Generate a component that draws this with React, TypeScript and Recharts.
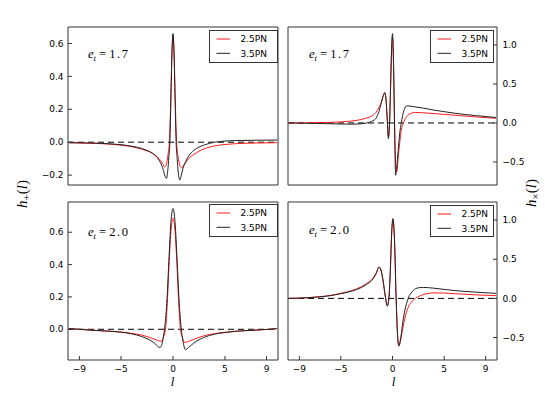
import React from 'react';
import { LineChart, Line, XAxis, YAxis, ReferenceLine } from 'recharts';

// ---------- data ----------
const xTicks = [-9, -5, 0, 5, 9];
const yTicksTL = [-0.2, 0, 0.2, 0.4, 0.6];
const yTicksTR = [-0.5, 0, 0.5, 1.0];
const yTicksBL = [0, 0.2, 0.4, 0.6];
const yTicksBR = [-0.5, 0, 0.5, 1.0];
const seriesNames = ['2.5PN', '3.5PN'];
const panelLabels = ['1.7', '1.7', '2.0', '2.0'];

// top-left: h+ , e_t = 1.7
const tlL35 = [-10, -8, -6, -5, -4, -3, -2.5, -2, -1.5, -1.2, -1, -0.8, -0.63, -0.5, -0.4, -0.3, -0.2, -0.1, 0, 0.1, 0.2, 0.3, 0.4, 0.5, 0.65, 0.8, 1, 1.2, 1.5, 2, 2.5, 3, 3.5, 4, 5, 6, 8, 10];
const tlH35 = [-0.003, -0.005, -0.01, -0.015, -0.024, -0.038, -0.05, -0.066, -0.095, -0.125, -0.155, -0.2, -0.22, -0.17, -0.09, 0, 0.26, 0.54, 0.66, 0.54, 0.26, 0, -0.1, -0.18, -0.23, -0.2, -0.15, -0.12, -0.085, -0.05, -0.03, -0.017, -0.007, 0, 0.007, 0.01, 0.012, 0.013];
const tlL25 = [-10, -8, -6, -5, -4, -3, -2.5, -2, -1.5, -1.2, -1, -0.79, -0.6, -0.45, -0.35, -0.2, -0.1, 0, 0.1, 0.2, 0.35, 0.5, 0.65, 0.82, 1, 1.2, 1.5, 2, 2.5, 3, 3.5, 4, 5, 6, 8, 10];
const tlH25 = [-0.003, -0.006, -0.012, -0.018, -0.027, -0.042, -0.052, -0.066, -0.09, -0.11, -0.13, -0.15, -0.125, -0.06, 0, 0.3, 0.55, 0.65, 0.55, 0.3, 0, -0.09, -0.14, -0.155, -0.145, -0.125, -0.1, -0.075, -0.055, -0.04, -0.03, -0.022, -0.014, -0.009, -0.005, -0.003];

// top-right: hx , e_t = 1.7
const trL35 = [-10, -8, -6, -4, -3, -2.5, -2, -1.6, -1.3, -1.1, -0.9, -0.75, -0.6, -0.5, -0.4, -0.3, -0.2, -0.1, 0, 0.1, 0.2, 0.3, 0.4, 0.55, 0.7, 0.85, 1.1, 1.42, 2, 3, 4, 5, 6, 8, 10];
const trH35 = [0, -0.004, -0.01, -0.015, -0.01, 0, 0.02, 0.06, 0.15, 0.25, 0.35, 0.39, 0.25, 0.02, -0.2, -0.05, 0.4, 0.9, 1.145, 0.75, -0.05, -0.67, -0.58, -0.35, -0.13, 0, 0.16, 0.22, 0.21, 0.19, 0.165, 0.145, 0.125, 0.095, 0.07];
const trL25 = [-10, -8, -6, -5, -4, -3, -2.5, -2, -1.6, -1.3, -1.1, -0.9, -0.75, -0.6, -0.5, -0.4, -0.3, -0.2, -0.1, 0, 0.1, 0.2, 0.3, 0.4, 0.55, 0.7, 0.85, 1.05, 1.3, 1.6, 2.2, 3, 4, 5, 6, 8, 10];
const trH25 = [0, 0.003, 0.008, 0.014, 0.024, 0.045, 0.063, 0.09, 0.135, 0.2, 0.26, 0.34, 0.385, 0.26, 0.03, -0.17, -0.05, 0.37, 0.85, 1.1, 0.75, 0, -0.5, -0.63, -0.45, -0.25, -0.09, 0, 0.07, 0.11, 0.135, 0.13, 0.12, 0.11, 0.1, 0.078, 0.06];

// bottom-left: h+ , e_t = 2.0
const blL35 = [-10, -9, -8, -6, -5, -4, -3, -2.5, -2, -1.6, -1.27, -1.1, -0.95, -0.82, -0.6, -0.4, -0.2, 0, 0.2, 0.4, 0.6, 0.8, 0.95, 1.2, 1.5, 2, 2.5, 3, 4, 5, 6, 8, 9, 10];
const blH35 = [0.004, 0, -0.005, -0.013, -0.018, -0.028, -0.045, -0.058, -0.075, -0.097, -0.113, -0.1, -0.055, 0, 0.16, 0.42, 0.66, 0.747, 0.66, 0.42, 0.16, 0, -0.07, -0.126, -0.112, -0.085, -0.065, -0.05, -0.03, -0.02, -0.013, -0.005, -0.001, 0.004];
const blL25 = [-10, -9, -8, -6, -5, -4, -3, -2.5, -2, -1.6, -1.1, -0.9, -0.72, -0.55, -0.35, -0.15, 0, 0.15, 0.35, 0.55, 0.72, 0.9, 1.13, 1.5, 2, 2.5, 3, 4, 5, 6, 8, 9, 10];
const blH25 = [0.004, 0, -0.005, -0.012, -0.017, -0.025, -0.036, -0.045, -0.056, -0.066, -0.074, -0.045, 0, 0.16, 0.44, 0.64, 0.685, 0.64, 0.44, 0.16, 0, -0.05, -0.082, -0.075, -0.062, -0.05, -0.04, -0.027, -0.019, -0.012, -0.005, -0.001, 0.004];

// bottom-right: hx , e_t = 2.0
const brL35 = [-10, -9, -8, -7, -6, -5, -4, -3, -2.5, -2, -1.6, -1.3, -1.1, -0.9, -0.7, -0.5, -0.35, -0.2, -0.08, 0.05, 0.2, 0.35, 0.5, 0.62, 0.8, 1.0, 1.2, 1.52, 2, 2.5, 3, 4, 5, 6, 8, 10];
const brH35 = [0, 0.003, 0.01, 0.02, 0.035, 0.06, 0.09, 0.14, 0.18, 0.23, 0.31, 0.4, 0.36, 0.22, 0.03, -0.1, 0, 0.4, 0.85, 1.02, 0.72, 0, -0.5, -0.61, -0.5, -0.3, -0.15, 0, 0.1, 0.135, 0.14, 0.13, 0.115, 0.1, 0.08, 0.064];
const brL25 = [-10, -9, -8, -7, -6, -5, -4, -3, -2.5, -2, -1.6, -1.3, -1.1, -0.9, -0.7, -0.5, -0.35, -0.2, -0.08, 0.05, 0.2, 0.35, 0.5, 0.62, 0.8, 1.0, 1.2, 1.5, 1.8, 2.23, 3, 4, 5, 6, 8, 10];
const brH25 = [0, 0.004, 0.011, 0.022, 0.038, 0.064, 0.097, 0.15, 0.19, 0.24, 0.32, 0.4, 0.35, 0.21, 0.03, -0.09, 0, 0.38, 0.82, 1.0, 0.72, 0.02, -0.48, -0.6, -0.52, -0.38, -0.25, -0.12, -0.05, 0, 0.05, 0.07, 0.068, 0.06, 0.045, 0.035];

// ---------- helpers ----------
const W = 545;
const H = 393;
const RED = '#ff1a1a';
const BLACK = '#222';
const FRAME = '#333';
const X_DOMAIN: [number, number] = [-10.1, 10.1];

const zip = (l: number[], h: number[]) => l.map((x, i) => ({ l: x, h: h[i] }));
const fmtY = (v: number) => (v < 0 ? '\u2212' : '') + Math.abs(v).toFixed(1);
const fmtX = (v: number) => (v < 0 ? '\u2212' : '') + Math.abs(v).toString();

const tickFont = { fill: '#000', fontSize: 9, fontFamily: 'DejaVu Sans' };

type PanelProps = {
  rect: [number, number, number, number];
  yDomain: [number, number];
  yTicks: number[];
  side: 'left' | 'right';
  showX: boolean;
  red: { l: number; h: number }[];
  black: { l: number; h: number }[];
};

function Panel({ rect, yDomain, yTicks, side, showX, red, black }: PanelProps) {
  const [L, T, R, B] = rect;
  const margin = { left: L - 1, top: T - 1, right: W - R - 1, bottom: H - B - 1 };
  return (
    <div style={{ position: 'absolute', left: 0, top: 0 }}>
      <LineChart width={W} height={H} margin={margin}>
        <XAxis
          xAxisId="b"
          type="number"
          dataKey="l"
          orientation="bottom"
          domain={X_DOMAIN}
          allowDataOverflow
          ticks={xTicks}
          interval={0}
          height={1}
          tickSize={-4}
          tickMargin={10}
          stroke={FRAME}
          tick={showX ? tickFont : false}
          tickFormatter={fmtX}
        />
        <XAxis
          xAxisId="t"
          type="number"
          dataKey="l"
          orientation="top"
          domain={X_DOMAIN}
          allowDataOverflow
          ticks={xTicks}
          interval={0}
          height={1}
          tickSize={-4}
          stroke={FRAME}
          tick={false}
        />
        <YAxis
          yAxisId="l"
          type="number"
          orientation="left"
          domain={yDomain}
          allowDataOverflow
          ticks={yTicks}
          interval={0}
          width={1}
          tickSize={-4}
          tickMargin={8.5}
          stroke={FRAME}
          tick={side === 'left' ? tickFont : false}
          tickFormatter={fmtY}
        />
        <YAxis
          yAxisId="r"
          type="number"
          orientation="right"
          domain={yDomain}
          allowDataOverflow
          ticks={yTicks}
          interval={0}
          width={1}
          tickSize={-4}
          tickMargin={9.5}
          stroke={FRAME}
          tick={side === 'right' ? tickFont : false}
          tickFormatter={fmtY}
        />
        <ReferenceLine xAxisId="b" yAxisId="l" y={0} stroke="#000" strokeDasharray="6 4" strokeWidth={1} />
        <Line
          xAxisId="b"
          yAxisId="l"
          data={red}
          dataKey="h"
          type="monotone"
          stroke={RED}
          strokeWidth={1}
          dot={false}
          isAnimationActive={false}
        />
        <Line
          xAxisId="b"
          yAxisId="l"
          data={black}
          dataKey="h"
          type="monotone"
          stroke={BLACK}
          strokeWidth={1}
          dot={false}
          isAnimationActive={false}
        />
      </LineChart>
    </div>
  );
}

function LegendBox({ x, y, w, h }: { x: number; y: number; w: number; h: number }) {
  const rows = [y + 8.5, y + 22.8];
  const colors = [RED, BLACK];
  return (
    <g>
      <rect x={x} y={y} width={w} height={h} fill="#fff" stroke={FRAME} strokeWidth={1} />
      {seriesNames.map((name, i) => (
        <g key={name}>
          <line x1={x + 7} x2={x + 20.5} y1={rows[i]} y2={rows[i]} stroke={colors[i]} strokeWidth={1} />
          <text x={x + 31} y={rows[i] + 3.3} fontSize={9} fontFamily="DejaVu Sans" fill="#000">
            {name}
          </text>
        </g>
      ))}
    </g>
  );
}

function Annot({ x, y, val }: { x: number; y: number; val: string }) {
  return (
    <text x={x} y={y} fontSize={12.5} fontFamily="Liberation Serif" fill="#000">
      <tspan fontStyle="italic">e</tspan>
      <tspan fontStyle="italic" fontSize={8.5} dy={2.5}>t</tspan>
      <tspan dy={-2.5}>{' = '}</tspan>
      <tspan letterSpacing={1.5}>{val}</tspan>
    </text>
  );
}

export default function App() {
  const rTL: [number, number, number, number] = [68, 27, 278, 185];
  const rTR: [number, number, number, number] = [288, 27, 497, 185];
  const rBL: [number, number, number, number] = [68, 202, 278, 360];
  const rBR: [number, number, number, number] = [288, 202, 497, 360];
  return (
    <div style={{ position: 'absolute', left: 0, top: 0, width: W, height: H, background: '#fff' }}>
      <Panel rect={rTL} yDomain={[-0.26, 0.7]} yTicks={yTicksTL} side="left" showX={false} red={zip(tlL25, tlH25)} black={zip(tlL35, tlH35)} />
      <Panel rect={rTR} yDomain={[-0.795, 1.23]} yTicks={yTicksTR} side="right" showX={false} red={zip(trL25, trH25)} black={zip(trL35, trH35)} />
      <Panel rect={rBL} yDomain={[-0.19, 0.787]} yTicks={yTicksBL} side="left" showX={true} red={zip(blL25, blH25)} black={zip(blL35, blH35)} />
      <Panel rect={rBR} yDomain={[-0.787, 1.231]} yTicks={yTicksBR} side="right" showX={true} red={zip(brL25, brH25)} black={zip(brL35, brH35)} />
      <svg width={W} height={H} style={{ position: 'absolute', left: 0, top: 0, pointerEvents: 'none' }}>
        <LegendBox x={209.5} y={30.5} w={68} h={32} />
        <LegendBox x={430.5} y={30.5} w={63} h={32} />
        <LegendBox x={209.5} y={204.5} w={68} h={32} />
        <LegendBox x={430.5} y={205.5} w={63} h={31} />
        <Annot x={88} y={58} val={panelLabels[0]} />
        <Annot x={309} y={58} val={panelLabels[1]} />
        <Annot x={88} y={236} val={panelLabels[2]} />
        <Annot x={309} y={234} val={panelLabels[3]} />
        <text transform="translate(27,194) rotate(-90)" textAnchor="middle" fontSize={15} fontFamily="Liberation Serif" fill="#000">
          <tspan fontStyle="italic">h</tspan>
          <tspan fontSize={11} dy={3}>+</tspan>
          <tspan dy={-3}>(</tspan>
          <tspan fontStyle="italic">l</tspan>
          <tspan>)</tspan>
        </text>
        <text transform="translate(536,193) rotate(-90)" textAnchor="middle" fontSize={15} fontFamily="Liberation Serif" fill="#000">
          <tspan fontStyle="italic">h</tspan>
          <tspan fontSize={11} dy={3}>×</tspan>
          <tspan dy={-3}>(</tspan>
          <tspan fontStyle="italic">l</tspan>
          <tspan>)</tspan>
        </text>
        <text x={172.5} y={386} textAnchor="middle" fontSize={13} fontStyle="italic" fontFamily="Liberation Serif" fill="#000">l</text>
        <text x={393.5} y={386} textAnchor="middle" fontSize={13} fontStyle="italic" fontFamily="Liberation Serif" fill="#000">l</text>
      </svg>
    </div>
  );
}
